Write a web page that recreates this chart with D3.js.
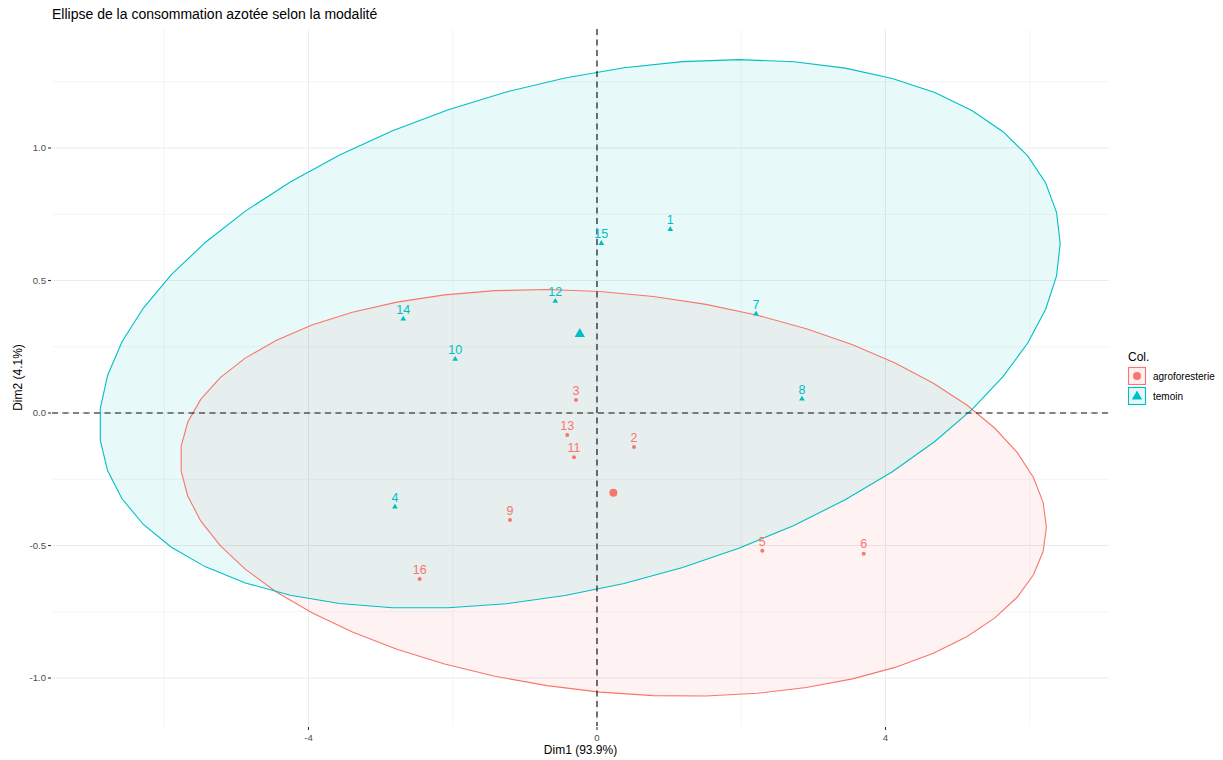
<!DOCTYPE html>
<html>
<head>
<meta charset="utf-8">
<script src="https://cdn.jsdelivr.net/npm/d3@7"></script>
<style>
  html, body { margin: 0; padding: 0; background: #fff; }
  svg { display: block; font-family: "Liberation Sans", Arial, Helvetica, sans-serif; }
</style>
</head>
<body>
<svg id="chart" width="1223" height="760"></svg>
<script>
// ---------------- DATA ----------------
const groups = ["agroforesterie", "temoin"];
const groupColors = ["#F8766D", "#00BFC4"];

const agroIds  = ["3", "13", "2", "11", "9", "5", "6", "16"];
const agroDim1 = [-0.291, -0.412, 0.513, -0.319, -1.206, 2.292, 3.698, -2.458];
const agroDim2 = [0.049, -0.083, -0.128, -0.167, -0.404, -0.520, -0.531, -0.626];

const temoinIds  = ["1", "15", "12", "14", "10", "7", "8", "4"];
const temoinDim1 = [1.016, 0.060, -0.578, -2.686, -1.965, 2.205, 2.842, -2.801];
const temoinDim2 = [0.693, 0.640, 0.422, 0.355, 0.203, 0.374, 0.053, -0.354];

const xMajorTicks = [-4, 0, 4];
const xMinorTicks = [-6, -2, 2, 6];
const yMajorTicks = [-1.0, -0.5, 0.0, 0.5, 1.0];
const yMinorTicks = [-0.75, -0.25, 0.25, 0.75, 1.25];
const yTickLabels = ["-1.0", "-0.5", "0.0", "0.5", "1.0"];
const xTickLabels = ["-4", "0", "4"];

const xLimits = [-7.556, 7.099];
const yLimits = [-1.181, 1.449];

const chartTitle = "Ellipse de la consommation azotée selon la modalité";
const xTitle = "Dim1 (93.9%)";
const yTitle = "Dim2 (4.1%)";
const legendTitle = "Col.";
const ellipseLevel = 0.95;

// ---------------- LAYOUT ----------------
const svg = d3.select("#chart");
const panel = { left: 52, right: 1109, top: 29, bottom: 726 };
const x = d3.scaleLinear().domain(xLimits).range([panel.left, panel.right]);
const y = d3.scaleLinear().domain(yLimits).range([panel.bottom, panel.top]);

const groupData = [
  { name: groups[0], color: groupColors[0], ids: agroIds, d1: agroDim1, d2: agroDim2 },
  { name: groups[1], color: groupColors[1], ids: temoinIds, d1: temoinDim1, d2: temoinDim2 }
];

// stat_ellipse(type = "norm") equivalent
function ellipsePoints(xs, ys, level, segments = 51) {
  const n = xs.length;
  const mx = d3.mean(xs), my = d3.mean(ys);
  let a = 0, b = 0, d = 0;
  for (let i = 0; i < n; i++) {
    a += (xs[i] - mx) ** 2;
    b += (xs[i] - mx) * (ys[i] - my);
    d += (ys[i] - my) ** 2;
  }
  a /= (n - 1); b /= (n - 1); d /= (n - 1);
  const dfd = n - 1;
  const qf = (dfd / 2) * (Math.pow(1 - level, -2 / dfd) - 1); // F(2, dfd) quantile
  const radius = Math.sqrt(2 * qf);
  const r11 = Math.sqrt(a), r12 = b / r11, r22 = Math.sqrt(d - r12 * r12);
  const pts = [];
  for (let k = 0; k <= segments; k++) {
    const t = k * 2 * Math.PI / segments;
    const c = Math.cos(t), s = Math.sin(t);
    pts.push([mx + radius * c * r11, my + radius * (c * r12 + s * r22)]);
  }
  return pts;
}

// ---------------- GRID ----------------
const grid = svg.append("g");
grid.selectAll(".xminor").data(xMinorTicks).enter().append("line")
  .attr("x1", d => x(d)).attr("x2", d => x(d))
  .attr("y1", panel.top).attr("y2", panel.bottom)
  .attr("stroke", "#EBEBEB").attr("stroke-width", 0.55);
grid.selectAll(".yminor").data(yMinorTicks).enter().append("line")
  .attr("y1", d => y(d)).attr("y2", d => y(d))
  .attr("x1", panel.left).attr("x2", panel.right)
  .attr("stroke", "#EBEBEB").attr("stroke-width", 0.55);
grid.selectAll(".xmajor").data(xMajorTicks).enter().append("line")
  .attr("x1", d => x(d)).attr("x2", d => x(d))
  .attr("y1", panel.top).attr("y2", panel.bottom)
  .attr("stroke", "#EBEBEB").attr("stroke-width", 1.1);
grid.selectAll(".ymajor").data(yMajorTicks).enter().append("line")
  .attr("y1", d => y(d)).attr("y2", d => y(d))
  .attr("x1", panel.left).attr("x2", panel.right)
  .attr("stroke", "#EBEBEB").attr("stroke-width", 1.1);

// ---------------- ELLIPSES ----------------
const line = d3.line().x(p => x(p[0])).y(p => y(p[1]));
const ellG = svg.append("g");
groupData.forEach(g => {
  const pts = ellipsePoints(g.d1, g.d2, ellipseLevel);
  ellG.append("path").attr("d", line(pts) + "Z")
    .attr("fill", g.color).attr("fill-opacity", 0.09)
    .attr("stroke", "none");
});
groupData.forEach(g => {
  const pts = ellipsePoints(g.d1, g.d2, ellipseLevel);
  ellG.append("path").attr("d", line(pts) + "Z")
    .attr("fill", "none")
    .attr("stroke", g.color).attr("stroke-width", 1.1);
});

// ---------------- DASHED AXES ----------------
svg.append("line")
  .attr("x1", panel.left).attr("x2", panel.right)
  .attr("y1", y(0)).attr("y2", y(0))
  .attr("stroke", "#111").attr("stroke-width", 1.15).attr("stroke-dasharray", "6,4.5");
svg.append("line")
  .attr("x1", x(0)).attr("x2", x(0))
  .attr("y1", panel.top).attr("y2", panel.bottom)
  .attr("stroke", "#111").attr("stroke-width", 1.15).attr("stroke-dasharray", "6,4.5");

// ---------------- POINTS ----------------
const triSmall = d3.symbol().type(d3.symbolTriangle).size(14);
const triBig = d3.symbol().type(d3.symbolTriangle).size(46);
const ptsG = svg.append("g");
groupData.forEach((g, gi) => {
  g.ids.forEach((id, i) => {
    const px = x(g.d1[i]), py = y(g.d2[i]);
    if (gi === 0) {
      ptsG.append("circle").attr("cx", px).attr("cy", py).attr("r", 2).attr("fill", g.color);
    } else {
      ptsG.append("path").attr("d", triSmall()).attr("transform", `translate(${px},${py})`).attr("fill", g.color);
    }
    ptsG.append("text").attr("x", px).attr("y", py - 5.3)
      .attr("text-anchor", "middle").attr("font-size", "12.5px")
      .attr("fill", g.color).text(id);
  });
  const cx = x(d3.mean(g.d1)), cy = y(d3.mean(g.d2));
  if (gi === 0) {
    ptsG.append("circle").attr("cx", cx).attr("cy", cy).attr("r", 4).attr("fill", g.color);
  } else {
    ptsG.append("path").attr("d", triBig()).attr("transform", `translate(${cx},${cy})`).attr("fill", g.color);
  }
});

// ---------------- AXES ----------------
const axG = svg.append("g");
yMajorTicks.forEach((t, i) => {
  axG.append("line").attr("x1", panel.left - 4).attr("x2", panel.left - 1)
    .attr("y1", y(t)).attr("y2", y(t)).attr("stroke", "#333").attr("stroke-width", 1.1);
  axG.append("text").attr("x", panel.left - 6).attr("y", y(t)).attr("dy", "0.35em")
    .attr("text-anchor", "end").attr("font-size", "9.6px").attr("fill", "#4D4D4D")
    .text(yTickLabels[i]);
});
xMajorTicks.forEach((t, i) => {
  axG.append("line").attr("y1", panel.bottom + 1).attr("y2", panel.bottom + 4)
    .attr("x1", x(t)).attr("x2", x(t)).attr("stroke", "#333").attr("stroke-width", 1.1);
  axG.append("text").attr("x", x(t)).attr("y", panel.bottom + 15)
    .attr("text-anchor", "middle").attr("font-size", "9.6px").attr("fill", "#4D4D4D")
    .text(xTickLabels[i]);
});
axG.append("text").attr("x", (panel.left + panel.right) / 2).attr("y", 754)
  .attr("text-anchor", "middle").attr("font-size", "12px").attr("fill", "#000").text(xTitle);
axG.append("text")
  .attr("transform", `translate(22,${(panel.top + panel.bottom) / 2}) rotate(-90)`)
  .attr("text-anchor", "middle").attr("font-size", "12px").attr("fill", "#000").text(yTitle);

// ---------------- TITLE ----------------
svg.append("text").attr("x", 52).attr("y", 19).attr("font-size", "14px").attr("fill", "#000").text(chartTitle);

// ---------------- LEGEND ----------------
const lg = svg.append("g");
lg.append("text").attr("x", 1128).attr("y", 361).attr("font-size", "12px").attr("fill", "#000").text(legendTitle);
groupData.forEach((g, i) => {
  const top = 367 + i * 20;
  lg.append("rect").attr("x", 1128.5).attr("y", top + 0.5).attr("width", 17).attr("height", 17)
    .attr("fill", g.color).attr("fill-opacity", 0.1).attr("stroke", g.color).attr("stroke-width", 1.1);
  if (i === 0) {
    lg.append("circle").attr("cx", 1137).attr("cy", top + 9).attr("r", 4).attr("fill", g.color);
  } else {
    lg.append("path").attr("d", triBig()).attr("transform", `translate(1137,${top + 9.5})`).attr("fill", g.color);
  }
  lg.append("text").attr("x", 1153).attr("y", top + 9).attr("dy", "0.35em")
    .attr("font-size", "10px").attr("fill", "#000").text(g.name);
});
</script>
</body>
</html>
